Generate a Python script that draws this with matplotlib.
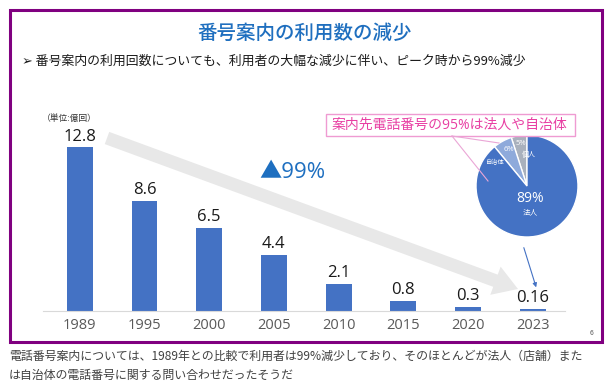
import matplotlib
matplotlib.use("Agg")
import matplotlib.pyplot as plt
from matplotlib.patches import Rectangle, FancyArrow

plt.rcParams['font.family'] = ['Noto Sans CJK JP', 'DejaVu Sans']

# データ（単位：億回）
years = ['1989', '1995', '2000', '2005', '2010', '2015', '2020', '2023']
calls = [12.8, 8.6, 6.5, 4.4, 2.1, 0.8, 0.3, 0.16]

# 案内先の内訳（個人・自治体・法人）
pie_labels = ['個人', '自治体', '法人']
pie_shares = [5, 6, 89]
pie_colors = ['#a9b1bd', '#8eaadb', '#4472c4']

title = '番号案内の利用数の減少'
subtitle = '➢ 番号案内の利用回数についても、利用者の大幅な減少に伴い、ピーク時から99%減少'
callout = '案内先電話番号の95%は法人や自治体'
caption = ['電話番号案内については、1989年との比較で利用者は99%減少しており、そのほとんどが法人（店舗）また',
           'は自治体の電話番号に関する問い合わせだったそうだ']

W, H = 615, 391
fig = plt.figure(figsize=(W / 100, H / 100), dpi=100)
num_font = ['Open Sans', 'Noto Sans CJK JP', 'DejaVu Sans']

# 背景レイヤー（ピクセル座標）
bg = fig.add_axes([0, 0, 1, 1], zorder=0)
bg.set_xlim(0, W)
bg.set_ylim(H, 0)
bg.axis('off')

bg.add_patch(Rectangle((10, 10), 592, 332, fill=False, ec='#800080', lw=2.2))
bg.add_patch(FancyArrow(107, 138, 411, 151, width=13, head_width=30, head_length=24,
                        length_includes_head=True, color='#e8e8e8', lw=0))

bg.text(305, 33, title, ha='center', va='center', fontsize=14, color='#1f6fbf',
        weight='medium')
bg.text(22, 61, subtitle, ha='left', va='center', fontsize=9.3, color='#1a1a1a')
bg.text(69, 118, '（単位:億回）', ha='center', va='center', fontsize=6.3, color='#333333')
bg.text(259, 173, '▲99%', ha='left', va='center', fontsize=16, color='#1e6fc0',
        family=num_font)
bg.text(592, 333, '6', ha='center', va='center', fontsize=5, color='#595959')
bg.text(9, 356, caption[0], ha='left', va='center', fontsize=8.6, color='#404040')
bg.text(9, 375, caption[1], ha='left', va='center', fontsize=8.6, color='#404040')

# 棒グラフ
ax = fig.add_axes([43 / W, (H - 311) / H, (565 - 43) / W, 179 / H], zorder=1)
ax.patch.set_alpha(0)
x = range(len(years))
ax.bar(x, calls, width=0.4, color='#4472c4')
for i, v in zip(x, calls):
    ax.annotate(f'{v:g}', (i, v), xytext=(0, 2), textcoords='offset points',
                ha='center', va='bottom', fontsize=12, color='#1a1a1a', family=num_font)
ax.set_xlim(-0.57, 7.5)
ax.set_ylim(0, 14)
ax.set_xticks(list(x))
ax.set_xticklabels(years, fontsize=10.5, color='#595959', family=num_font)
ax.tick_params(axis='x', length=0, pad=5)
ax.set_yticks([])
for s in ['top', 'left', 'right']:
    ax.spines[s].set_visible(False)
ax.spines['bottom'].set_color('#d9d9d9')

# 円グラフ
pax = fig.add_axes([476 / W, (H - 237) / H, 102 / W, 102 / H], zorder=2)
pax.pie(pie_shares, colors=pie_colors, startangle=90, counterclock=True,
        wedgeprops=dict(ec='white', lw=1))
pax.set_xlim(-1, 1)
pax.set_ylim(-1, 1)
pax.text(0.06, -0.25, '89%', ha='center', va='center', fontsize=10, color='white',
         family=num_font)
pax.text(0.06, -0.52, pie_labels[2], ha='center', va='center', fontsize=5.5, color='white')
pax.text(-0.36, 0.72, '6%', ha='center', va='center', fontsize=5.5, color='white',
         family=num_font)
pax.text(-0.62, 0.46, pie_labels[1], ha='center', va='center', fontsize=4.5, color='white')
pax.text(-0.12, 0.84, '5%', ha='center', va='center', fontsize=5.5, color='white',
         family=num_font)
pax.text(0.04, 0.6, pie_labels[0], ha='center', va='center', fontsize=5, color='white')

# 前面レイヤー（吹き出し・矢印）
fg = fig.add_axes([0, 0, 1, 1], zorder=3)
fg.set_xlim(0, W)
fg.set_ylim(H, 0)
fg.axis('off')
fg.plot([452, 499], [136, 143], color='#eaa6d6', lw=0.8)
fg.plot([452, 488], [136, 181], color='#eaa6d6', lw=0.8)
fg.add_patch(Rectangle((326, 114), 249, 22, fc='white', ec='#ef9bd2', lw=1))
fg.text(331, 125.5, callout, ha='left', va='center', fontsize=10, color='#e83fa3',
        family=num_font)
fg.annotate('', xy=(537, 290), xytext=(523, 245),
            arrowprops=dict(arrowstyle='-|>', color='#4472c4', lw=0.8, mutation_scale=6))

fig.savefig('out.png', dpi=100)
